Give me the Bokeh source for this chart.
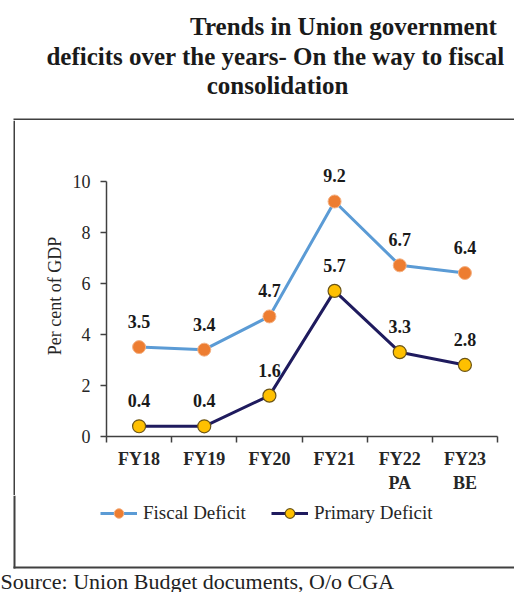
from bokeh.plotting import figure
from bokeh.layouts import column, row
from bokeh.models import (Range1d, FixedTicker, LinearAxis, Label, LabelSet,
                          ColumnDataSource, Legend, LegendItem)
from bokeh.embed import file_html
from bokeh.resources import INLINE

# ---- data ----
categories = ["FY18", "FY19", "FY20", "FY21", "FY22\nPA", "FY23\nBE"]
fiscal_deficit = [3.5, 3.4, 4.7, 9.2, 6.7, 6.4]
primary_deficit = [0.4, 0.4, 1.6, 5.7, 3.3, 2.8]
y_ticks = [0, 2, 4, 6, 8, 10]
title_lines = ["Trends in Union government",
               "deficits over the years- On the way to fiscal",
               "consolidation"]
source_text = "Source: Union Budget documents, O/o CGA"
y_label = "Per cent of GDP"
series_names = ["Fiscal Deficit", "Primary Deficit"]

SERIF = "Liberation Serif"
AX = "#404040"
TXT = "#262626"
FD_LINE, FD_MARK, FD_EDGE = "#5B9BD5", "#ED7D31", "#F4B183"
PD_LINE, PD_MARK, PD_EDGE = "#1F1B5E", "#FFC000", "#6B5416"


def blank_fig(w, h, color="white"):
    f = figure(width=w, height=h, output_backend="svg", toolbar_location=None,
               x_range=Range1d(0, w), y_range=Range1d(0, h),
               min_border=0, x_axis_type=None, y_axis_type=None)
    f.outline_line_color = None
    f.background_fill_color = color
    f.border_fill_color = color
    return f


TOTAL_W, TOTAL_H = 514, 592
BOX_X, BW = 13, 2          # left offset of box, border width

# ---- title figure (with top border of box) ----
TH = 120
tfig = blank_fig(TOTAL_W, TH)
tfig.quad(left=BOX_X, right=TOTAL_W, bottom=0, top=BW, fill_color=AX, line_color=None)
title_pos = [(343, 26), (275, 56), (277, 85)]
for txt, (cx, cy) in zip(title_lines, title_pos):
    tfig.add_layout(Label(x=cx, y=TH - cy, x_units="screen", y_units="screen",
                          text=txt, text_align="center", text_baseline="alphabetic",
                          text_font=SERIF, text_font_style="bold",
                          text_font_size="25px", text_color="#1a1a1a"))

# ---- main figure ----
MW = TOTAL_W - BOX_X - BW
MH = 375
FL, FR, FT, FB = 91, 482, 35, 321
xs = [i + 0.5 for i in range(len(categories))]

p = figure(width=MW, height=MH, output_backend="svg", toolbar_location=None,
           x_range=Range1d(0, len(categories)), y_range=Range1d(0, 11),
           min_border_left=FL, min_border_right=MW - FR,
           min_border_top=FT, min_border_bottom=MH - FB,
           x_axis_type=None, y_axis_type=None)
p.outline_line_color = None
p.background_fill_color = "white"
p.border_fill_color = "white"

xaxis = LinearAxis(
    ticker=FixedTicker(ticks=xs, minor_ticks=list(range(len(categories) + 1))),
    major_label_overrides={x: c for x, c in zip(xs, categories)},
    major_tick_out=0, major_tick_in=0, minor_tick_out=6, minor_tick_in=0,
    axis_line_color=AX, axis_line_width=1.5,
    minor_tick_line_color=AX, minor_tick_line_width=1.5,
    major_label_text_font=SERIF, major_label_text_font_style="bold",
    major_label_text_font_size="18px", major_label_text_color=TXT,
    major_label_standoff=6)
p.add_layout(xaxis, "below")

yaxis = LinearAxis(
    ticker=FixedTicker(ticks=y_ticks, minor_ticks=[]), bounds=(y_ticks[0], y_ticks[-1]),
    major_tick_out=6, major_tick_in=0, minor_tick_out=0, minor_tick_in=0,
    axis_line_color=AX, axis_line_width=1.5,
    major_tick_line_color=AX, major_tick_line_width=1.5,
    major_label_text_font=SERIF, major_label_text_font_size="18px",
    major_label_text_color=TXT, major_label_standoff=10,
    axis_label=y_label, axis_label_text_font=SERIF,
    axis_label_text_font_style="normal", axis_label_text_font_size="18px",
    axis_label_text_color=TXT, axis_label_standoff=5)
p.add_layout(yaxis, "left")

src = ColumnDataSource(dict(
    x=xs, fiscal=fiscal_deficit, primary=primary_deficit,
    flab=[f"{v:.1f}" for v in fiscal_deficit],
    plab=[f"{v:.1f}" for v in primary_deficit]))

p.line("x", "fiscal", source=src, line_color=FD_LINE, line_width=3)
p.scatter("x", "fiscal", source=src, size=13, fill_color=FD_MARK,
          line_color=FD_EDGE, line_width=1)
p.line("x", "primary", source=src, line_color=PD_LINE, line_width=3)
p.scatter("x", "primary", source=src, size=13, fill_color=PD_MARK,
          line_color=PD_EDGE, line_width=1.2)

for col, ycol in (("flab", "fiscal"), ("plab", "primary")):
    p.add_layout(LabelSet(x="x", y=ycol, text=col, source=src, y_offset=19,
                          text_align="center", text_baseline="alphabetic",
                          text_font=SERIF, text_font_style="bold",
                          text_font_size="18px", text_color="#1a1a1a"))

# ---- left border beside main figure ----
lbar = blank_fig(BOX_X + BW, MH)
lbar.quad(left=BOX_X, right=BOX_X + BW, bottom=0, top=MH, fill_color=AX, line_color=None)

# ---- bottom figure: legend, rest of box, source ----
BH = TOTAL_H - TH - MH          # 97
BOX_BOTTOM = 73                 # px from top of this strip to bottom of box
bfig = blank_fig(TOTAL_W, BH)
bfig.quad(left=BOX_X, right=BOX_X + BW, bottom=BH - BOX_BOTTOM, top=BH,
          fill_color=AX, line_color=None)
bfig.quad(left=BOX_X, right=TOTAL_W, bottom=BH - BOX_BOTTOM, top=BH - BOX_BOTTOM + BW,
          fill_color=AX, line_color=None)
lf1 = bfig.line(xs, fiscal_deficit, line_color=FD_LINE, line_width=3, visible=False)
lf2 = bfig.scatter(xs, fiscal_deficit, fill_color=FD_MARK, line_color=FD_EDGE,
                   line_width=1, visible=False)
lp1 = bfig.line(xs, primary_deficit, line_color=PD_LINE, line_width=3, visible=False)
lp2 = bfig.scatter(xs, primary_deficit, fill_color=PD_MARK, line_color=PD_EDGE,
                   line_width=1.2, visible=False)
legend = Legend(items=[LegendItem(label=series_names[0], renderers=[lf1, lf2]),
                       LegendItem(label=series_names[1], renderers=[lp1, lp2])],
                location=(100, BH - 30), orientation="horizontal",
                glyph_width=37, glyph_height=24, label_height=24,
                label_standoff=6, spacing=25, padding=0, margin=0,
                border_line_color=None, background_fill_alpha=0,
                label_text_font=SERIF, label_text_font_size="19px",
                label_text_color=TXT)
bfig.add_layout(legend, "center")
bfig.add_layout(Label(x=0, y=11, x_units="screen", y_units="screen",
                      text=source_text, text_align="left", text_baseline="alphabetic",
                      text_font=SERIF, text_font_size="22px", text_color="#222222"))

layout = column(tfig, row(lbar, column(p), spacing=0), bfig, spacing=0)
open("out.html", "w").write(file_html(layout, INLINE))
